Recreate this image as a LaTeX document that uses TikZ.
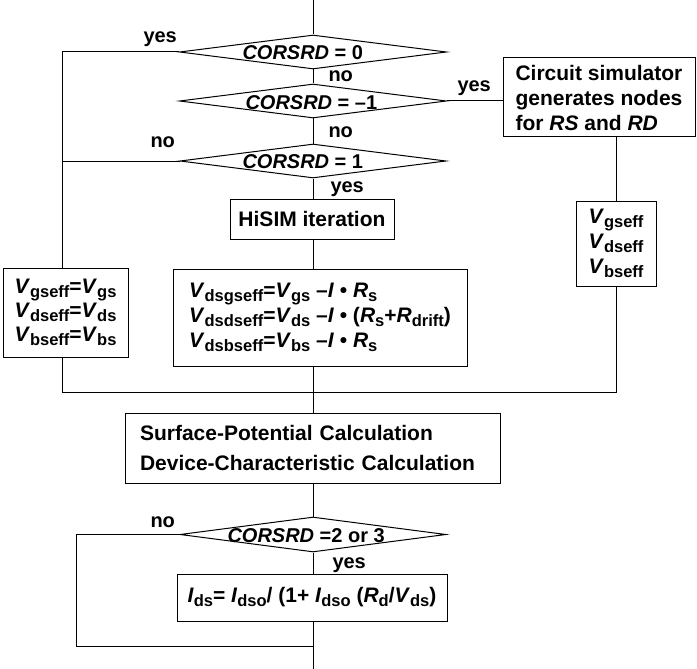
\documentclass[tikz,border=0pt]{standalone}
\usepackage{fontspec}
\setmainfont{Liberation Sans}
\usetikzlibrary{shapes.geometric}
\newcommand\subf{\fontsize{16.5}{16.5}\selectfont}
\newcommand\Vs[1]{\textit{V}\raisebox{-3.5pt}{\subf #1}}
\newcommand\Is[1]{\textit{I}\raisebox{-3.5pt}{\subf #1}}
\newcommand\Rs[1]{\textit{R}\raisebox{-3.5pt}{\subf #1}}
\newcommand\CR{\textit{CORSRD}}
\begin{document}
\begin{tikzpicture}[x=1pt,y=-1pt, line width=1pt,
  every node/.style={font=\fontsize{20}{25}\selectfont\bfseries, inner sep=0pt},
  box/.style={draw, rectangle, align=left, font=\fontsize{21}{25}\selectfont\bfseries},
  dia/.style={draw, diamond, inner sep=0pt},
  lbl/.style={anchor=base west}]
\useasboundingbox (0,0) rectangle (697,669);

% decisions
\node[dia, minimum width=267pt, minimum height=34pt] (c1) at (313,52) {};
\node[dia, minimum width=267pt, minimum height=34pt] (c2) at (313,101) {};
\node[dia, minimum width=266pt, minimum height=34pt] (c3) at (313,161) {};
\node[dia, minimum width=266pt, minimum height=35pt] (c4) at (313,534.5) {};
\node[lbl] (t1) at (242,60) {\CR{} = 0};
\node[lbl] (t2) at (245,110) {\CR{} = –1};
\node[lbl] (t3) at (242,168) {\CR{} = 1};
\node[lbl] (t4) at (227,542) {\CR{} =2 or 3};

% boxes
\node[box, minimum width=192pt, minimum height=79pt] (circ) at (599,97.5)
  {Circuit simulator\\generates nodes\\for \textit{RS} and \textit{RD}};
\node[box, minimum width=164pt, minimum height=40pt] (hisim) at (312,219) {HiSIM iteration};
\node[box, minimum width=125pt, minimum height=89pt] (lv) at (65.5,312.5)
  {\Vs{gseff}=\Vs{gs}\\[-1pt]\Vs{dseff}=\Vs{ds}\\[-1pt]\Vs{bseff}=\Vs{bs}};
\node[box, minimum width=80pt, minimum height=85pt] (rv) at (616,243.5)
  {\Vs{gseff}\\\Vs{dseff}\\\Vs{bseff}};
\node[box, minimum width=294pt, minimum height=97pt] (big) at (320,317.5)
  {\Vs{dsgseff}=\Vs{gs} –\textit{I} • \Rs{s}\\
   \Vs{dsdseff}=\Vs{ds} –\textit{I} • (\Rs{s}+\Rs{drift})\\
   \Vs{dsbseff}=\Vs{bs} –\textit{I} • \Rs{s}};
\node[box, minimum width=375pt, minimum height=70pt, text width=345pt] (surf) at (312.5,448)
  {Surface-Potential Calculation\\[5pt]Device-Characteristic Calculation};
\node[box, minimum width=270pt, minimum height=47pt] (ids) at (312,597.5)
  {\Is{ds}= \Is{dso}/ (1+ \Is{dso} (\Rs{d}/\Vs{ds})};

% labels
\node[lbl] (y1) at (143,43) {yes};
\node[lbl] (n1) at (328,82) {no};
\node[lbl] (n2) at (328,138) {no};
\node[lbl] (n3) at (150,147) {no};
\node[lbl] (y2) at (457,92) {yes};
\node[lbl] (y3) at (330,192) {yes};
\node[lbl] (n4) at (150,527) {no};
\node[lbl] (y4) at (332,568) {yes};

% coordinates
\coordinate (top) at (313,0);
\coordinate (L1) at (62,52);
\coordinate (M1) at (62,392);
\coordinate (M2) at (616,392);
\coordinate (B2) at (76,646);
\coordinate (B3) at (313,646);
\coordinate (bot) at (313,669);

% connectors
\draw (top) -- (c1.north);
\draw (c1.south) -- (c2.north);
\draw (c2.south) -- (c3.north);
\draw (c3.south) -- (c3.south |- hisim.north);
\draw (c3.south |- hisim.south) -- (c3.south |- big.north);
\draw (c3.south |- big.south) -- (c3.south |- surf.north);
\draw (c1.west) -- (L1) -- (lv.north -| L1);
\draw (c3.west) -- (c3.west -| L1);
\draw (c2.east) -- (c2.east -| circ.west);
\draw (circ.south -| rv.north) -- (rv.north);
\draw (rv.south) -- (M2) -- (M1) -- (lv.south -| M1);
\draw (c3.south |- surf.south) -- (c4.north);
\draw (c4.south) -- (c4.south |- ids.north);
\draw (c4.south |- ids.south) -- (bot);
\draw (c4.west) -- (c4.west -| B2) -- (B2) -- (B3);
\end{tikzpicture}
\end{document}
